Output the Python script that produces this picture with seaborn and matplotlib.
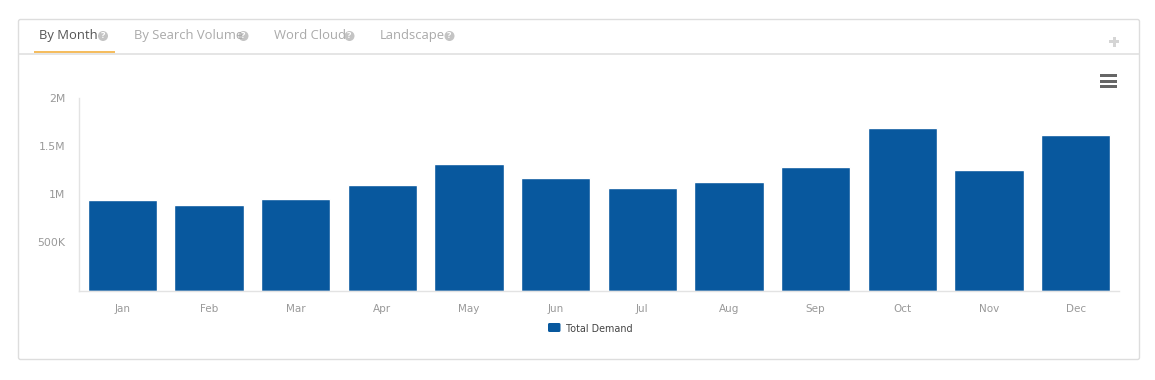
import matplotlib
matplotlib.use("Agg")
import matplotlib.pyplot as plt
from matplotlib.patches import Rectangle, Circle, FancyBboxPatch
import pandas as pd
import seaborn as sns

months = ["Jan", "Feb", "Mar", "Apr", "May", "Jun", "Jul", "Aug", "Sep", "Oct", "Nov", "Dec"]
demand = [940000, 888000, 950000, 1096000, 1314000, 1170000, 1065000, 1127000, 1283000, 1688000, 1252000, 1615000]
y_ticks = [0, 500000, 1000000, 1500000, 2000000]
y_labels = ["", "500K", "1M", "1.5M", "2M"]
tabs = ["By Month", "By Search Volume", "Word Cloud", "Landscape"]
series_name = "Total Demand"

W, H = 1155, 380
BLUE = "#08589e"
LINE = "#e3e3e3"

sns.set_theme(style="white")
plt.rcParams["font.family"] = ["Open Sans", "DejaVu Sans"]

fig = plt.figure(figsize=(W / 100, H / 100), dpi=100, facecolor="white")

# pixel-space overlay for the card chrome
bg = fig.add_axes([0, 0, 1, 1], zorder=0)
bg.set_xlim(0, W)
bg.set_ylim(H, 0)
bg.axis("off")
bg.add_patch(FancyBboxPatch((18.5, 19.5), 1121, 340, boxstyle="round,pad=0,rounding_size=2",
                            fc="white", ec="#dddddd", lw=1))
bg.plot([19, 1139], [53.5, 53.5], color="#e0e0e0", lw=1.2)
bg.add_patch(Rectangle((34, 51), 81, 2, fc="#f5bd5f", ec="none"))

tab_x = [39, 133.5, 274, 380]
icon_x = [103, 243.5, 349.5, 449.5]
for i, (t, x, ix) in enumerate(zip(tabs, tab_x, icon_x)):
    bg.text(x, 35.5, t, fontsize=9.4, color="#555555" if i == 0 else "#aaaaaa", va="center", ha="left")
    bg.add_patch(Circle((ix, 36), 5, fc="#c4c4c4", ec="none"))
    bg.text(ix, 36, "?", fontsize=6.5, color="white", ha="center", va="center", fontweight="bold")

# plus icon
bg.add_patch(Rectangle((1109, 40), 10, 3, fc="#d5d5d5", ec="none"))
bg.add_patch(Rectangle((1112.5, 36.5), 3, 10, fc="#d5d5d5", ec="none"))
# menu icon
for y in (74, 80, 85):
    bg.add_patch(Rectangle((1099.5, y), 17, 3, fc="#666666", ec="none"))

# chart
ax_left, ax_right, ax_top, ax_bottom = 79, 1119, 98, 290.5
ax = fig.add_axes([ax_left / W, 1 - ax_bottom / H, (ax_right - ax_left) / W, (ax_bottom - ax_top) / H],
                  zorder=1, facecolor="none")
df = pd.DataFrame({"Month": months, series_name: demand})
sns.barplot(data=df, x="Month", y=series_name, color=BLUE, saturation=1, width=0.8, ax=ax, legend=False)
ax.set_xlim(-0.5, 11.5)
ax.set_ylim(0, 2000000)
ax.set_xlabel("")
ax.set_ylabel("")
ax.set_yticks([y_ticks[0], y_ticks[-1]], labels=[y_labels[0], y_labels[-1]])
ax.set_yticks(y_ticks[1:-1], labels=y_labels[1:-1], minor=True)
sns.despine(ax=ax, top=True, right=True)
for s in ("left", "bottom"):
    ax.spines[s].set_color(LINE)
    ax.spines[s].set_linewidth(1)
ax.tick_params(axis="x", which="major", length=4, width=1, color=LINE, labelcolor="#999999", labelsize=7.5, pad=6)
ax.tick_params(axis="y", which="major", length=7, width=1, color=LINE, labelcolor="#999999", labelsize=7.8, pad=3)
ax.tick_params(axis="y", which="minor", length=7, width=0, labelcolor="#999999", labelsize=7.8, pad=3)
for lab in ax.get_xticklabels() + ax.get_yticklabels() + ax.get_yticklabels(minor=True):
    lab.set_family("DejaVu Sans")

# legend
bg.add_patch(FancyBboxPatch((548, 323), 12.5, 9, boxstyle="round,pad=0,rounding_size=1.5", fc=BLUE, ec="none"))
bg.text(566, 328.5, series_name, fontsize=6.9, color="#444444", va="center", ha="left", family="DejaVu Sans")

fig.savefig("out.png", dpi=100, facecolor="white")
